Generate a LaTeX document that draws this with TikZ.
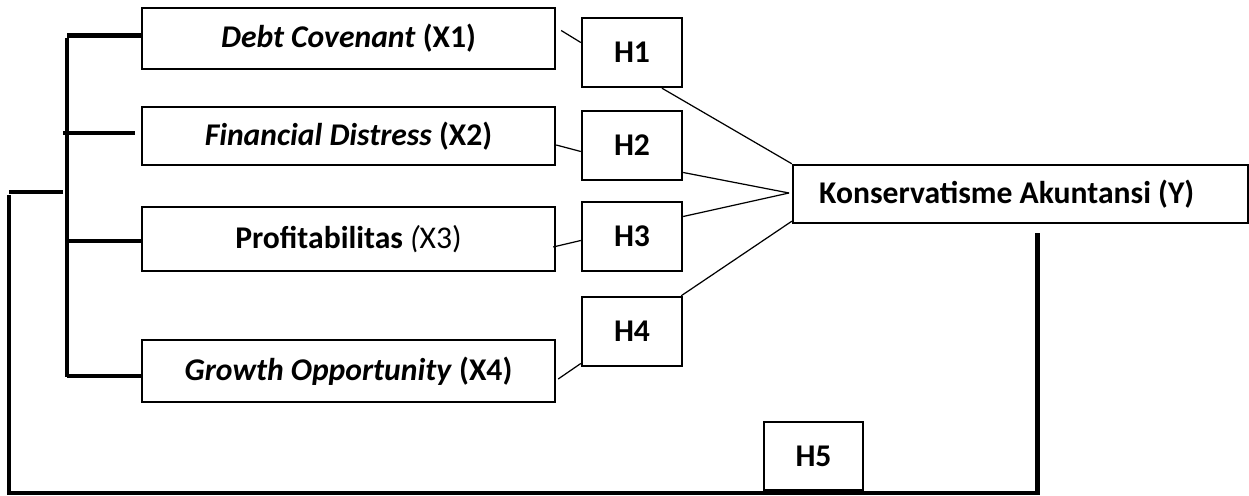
\documentclass[tikz,border=0pt]{standalone}
\usepackage{fontspec}
\setmainfont{Carlito}
\begin{document}
\begin{tikzpicture}[x=0.02cm,y=-0.02cm,
		varbox/.style={draw, line width=1.4pt, minimum width=8.26cm, inner sep=0pt, font=\fontsize{18}{21}\selectfont},
		hypbox/.style={draw, line width=1.4pt, minimum width=2cm, minimum height=1.38cm, inner sep=0pt, font=\fontsize{18}{21}\selectfont\bfseries},
		link/.style={line width=0.7pt},
		bracket/.style={line width=2.3pt}]
				\useasboundingbox (0,0) rectangle (1249,496);
				% variabel independen
				\node[varbox, minimum height=1.22cm] (x1) at (348.5,38.5) {\textbf{\textit{Debt Covenant}} \textbf{(X1)}};
				\node[varbox, minimum height=1.16cm] (x2) at (348.5,136) {\textbf{\textit{Financial Distress}} \textbf{(X2)}};
				\node[varbox, minimum height=1.28cm] (x3) at (348.5,239) {\textbf{Profitabilitas} \textit{(}X3)};
				\node[varbox, minimum height=1.24cm] (x4) at (348.5,371) {\textbf{\textit{Growth Opportunity}} \textbf{(X4)}};
				% hipotesis
				\foreach \i/\y in {1/52.5,2/145.5,3/236.5,4/331.5} {
					\node[hypbox] (h\i) at (632,\y) {H\i};
				}
				\node[hypbox, minimum width=1.98cm, minimum height=1.36cm] (h5) at (813.5,456) {H5};
				% variabel dependen
				\node[varbox, minimum width=9.1cm, minimum height=1.16cm, font=\fontsize{18}{21}\selectfont\bfseries] (y) at (1020.5,194) {Konservatisme Akuntansi (Y)\hspace*{0.55cm}};
				\coordinate (meet) at (789,193);
				
				\draw[link] ([shift={(5,-8)}]x1.east) -- ([shift={(0,-10)}]h1.west);
				\draw[link] ([shift={(0,9)}]x2.east) -- ([shift={(0,6)}]h2.west);
				\draw[link] ([shift={(-3,8)}]x3.east) -- ([shift={(0,4)}]h3.west);
				\draw[link] ([shift={(2,8)}]x4.east) -- ([shift={(0,32)}]h4.west);
				\draw[link] ([shift={(30,0)}]h1.south) -- (y.north west);
				\draw[link] ([shift={(0,27)}]h2.east) -- (meet);
				\draw[link] ([shift={(0,-20)}]h3.east) -- (meet);
				\draw[link] ([shift={(-2,0)}]h4.north east) -- ([shift={(0,-3)}]y.south west);
				
				% garis simultan
				\coordinate (top) at (67,38);
				\coordinate (bot) at (67,377);
				\coordinate (jn) at (63,192);
				\coordinate (loop) at (9,493);
				\draw[bracket] (top) -- (bot);
				\draw[bracket] ([shift={(0,-3)}]x1.west) -- ([shift={(0,-3)}]x1.west -| top);
				\draw[bracket] ([shift={(-6,-3)}]x2.west) -- ([shift={(-4,-3)}]x2.west -| top);
				\draw[bracket] ([shift={(0,2)}]x3.west) -- ([shift={(0,2)}]x3.west -| top);
				\draw[bracket] ([shift={(0,5)}]x4.west) -- ([shift={(0,5)}]x4.west -| top);
				\draw[bracket] (jn) -- (jn -| loop);
				\draw[bracket] ([shift={(17,9)}]y.south) |- (loop) -- ++(0,-298);
			\end{tikzpicture}
\end{document}
